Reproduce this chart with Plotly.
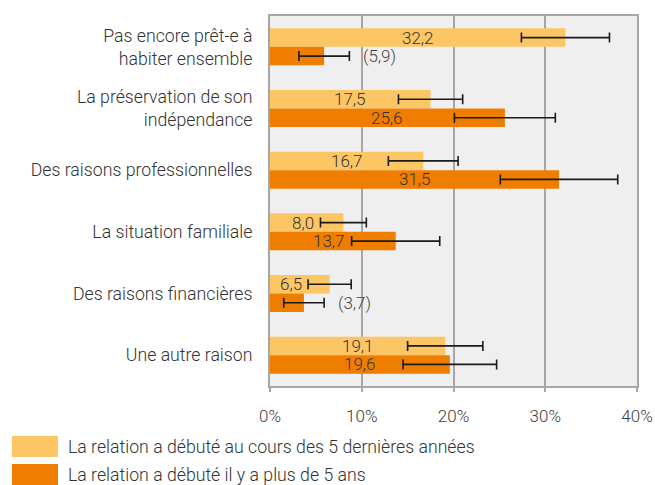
import plotly.graph_objects as go

# data
categories = [
    "Pas encore prêt-e à<br>habiter ensemble",
    "La préservation de son<br>indépendance",
    "Des raisons professionnelles",
    "La situation familiale",
    "Des raisons financières",
    "Une autre raison",
]
recent_values = [32.2, 17.5, 16.7, 8.0, 6.5, 19.1]
recent_errors = [4.8, 3.5, 3.8, 2.5, 2.35, 4.1]
older_values = [5.9, 25.6, 31.5, 13.7, 3.7, 19.6]
older_errors = [2.75, 5.5, 6.4, 4.8, 2.2, 5.1]
# values shown in parentheses (low precision), drawn outside the bar
older_low_precision = [True, False, False, False, True, False]
recent_low_precision = [False] * 6

series_names = [
    "La relation a débuté au cours des 5 dernières années",
    "La relation a débuté il y a plus de 5 ans",
]
x_ticks = [0, 10, 20, 30, 40]
x_tick_labels = ["0%", "10%", "20%", "30%", "40%"]

LIGHT = "#FDC664"
DARK = "#EF7D00"
TEXT = "#333333"
FONT = "Roboto"
FS = 17       # values and ticks
FS_CAT = 17.7  # category labels and legend

# plot area in pixels
PL, PW, PB, PH = 270, 367, 386, 370
X_MAX = 40
PX_PER_UNIT = PW / X_MAX
BAR_SHIFT = PH / len(categories) * 0.15  # half a bar, in pixels


def fmt(v):
    return f"{v:.1f}".replace(".", ",")


fig = go.Figure()

series = [
    (series_names[0], recent_values, recent_errors, recent_low_precision, LIGHT, 1),
    (series_names[1], older_values, older_errors, older_low_precision, DARK, -1),
]
for name, vals, errs, flags, color, side in series:
    fig.add_trace(go.Bar(
        y=categories, x=vals, orientation="h", name=name,
        marker=dict(color=color, line=dict(width=0)),
        error_x=dict(type="data", array=errs, color="#1a1a1a",
                     thickness=1.6, width=5),
        hoverinfo="skip",
    ))
    for cat, v, e, f in zip(categories, vals, errs, flags):
        label = fmt(v)
        if f:
            # low precision value: in parentheses after the error bar
            fig.add_annotation(
                x=v + e, y=cat, text=f"({label})", showarrow=False,
                xanchor="left", xshift=12, yshift=side * BAR_SHIFT,
                font=dict(family=FONT, size=FS, color="#444444", weight=300),
            )
            continue
        # centred in the bar, nudged left when it would hit the error bar
        half = (len(label) - 1) * FS * 0.28 + 2
        room = (v - e) * PX_PER_UNIT - 6 - (v / 2 * PX_PER_UNIT + half)
        fig.add_annotation(
            x=v / 2, y=cat, text=label, showarrow=False,
            xanchor="center", xshift=min(0, room), yshift=side * BAR_SHIFT,
            font=dict(family=FONT, size=FS, color=TEXT, weight=300),
        )

# custom legend with large swatches (pixel positions turned into paper units)
for i, (name, color) in enumerate(zip(series_names, [LIGHT, DARK])):
    y0 = 436 + i * 28
    fig.add_shape(type="rect", xref="paper", yref="paper",
                  x0=(12 - PL) / PW, x1=(58 - PL) / PW,
                  y0=(PB - y0 - 21) / PH, y1=(PB - y0) / PH,
                  fillcolor=color, line=dict(width=0))
    fig.add_annotation(xref="paper", yref="paper",
                       x=(66 - PL) / PW, y=(PB - y0 - 10.5) / PH,
                       text=name, showarrow=False, xanchor="left",
                       yanchor="middle",
                       font=dict(family=FONT, size=FS_CAT, color=TEXT, weight=300))

fig.update_layout(
    width=655, height=485,
    margin=dict(l=PL, r=655 - PL - PW, t=PB - PH, b=485 - PB),
    barmode="group", bargap=0.4, bargroupgap=0,
    plot_bgcolor="#EFEFEF", paper_bgcolor="white",
    showlegend=False,
    font=dict(family=FONT, size=FS, color=TEXT, weight=300),
)
fig.update_xaxes(
    range=[0, X_MAX], tickvals=x_ticks, ticktext=x_tick_labels,
    showgrid=True, gridcolor="#A6A6A6", gridwidth=1.5,
    showline=True, linecolor="#A6A6A6", linewidth=2, mirror=True,
    ticks="outside", ticklen=4, tickcolor="#A6A6A6", tickwidth=1.5,
    ticklabelstandoff=10, zeroline=False, automargin=False,
    tickfont=dict(family=FONT, size=FS, color="#404040", weight=300),
)
fig.update_yaxes(
    autorange="reversed", showgrid=False,
    showline=True, linecolor="#A6A6A6", linewidth=2, mirror=True,
    ticks="", ticklabelstandoff=12, automargin=False,
    tickfont=dict(family=FONT, size=FS_CAT, color=TEXT, weight=300),
)

# drop the browser's default body margin so the figure sits at the page corner
fig.write_html("out.html", config={"displayModeBar": False},
               post_script="document.body.style.margin='0';")
